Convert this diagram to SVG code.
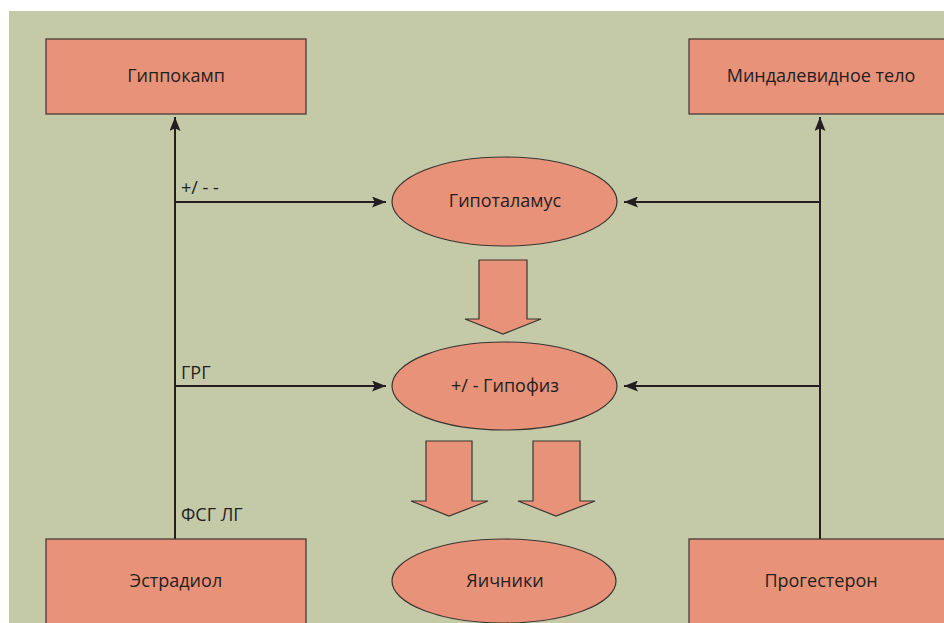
<svg xmlns="http://www.w3.org/2000/svg" width="944" height="623" viewBox="0 0 944 623">
<defs>
<marker id="ah" viewBox="0 0 10 10" refX="10" refY="5" markerWidth="14" markerHeight="11" markerUnits="userSpaceOnUse" orient="auto" preserveAspectRatio="none">
<path d="M0,0 L10,5 L0,10 L2,5 Z" fill="#231F20"/>
</marker>
<style>
.node{fill:#E8927A;stroke:#3A3530;stroke-width:1.2}
.lbl{font-family:"Open Sans","Liberation Sans",sans-serif;font-size:18px;fill:#231F20}
.c{text-anchor:middle}
.ln{stroke:#231F20;stroke-width:2;fill:none}
.ar{stroke:#231F20;stroke-width:2;fill:none;marker-end:url(#ah)}
</style>
</defs>
<rect x="0" y="0" width="944" height="623" fill="#FFFFFF"/>
<rect x="9" y="11" width="935" height="612" fill="#C4C9A8"/>
<g id="connectors">
<line class="ln" x1="175" y1="539" x2="175" y2="202"/>
<path class="ar" d="M175,202 L175,117"/>
<path class="ar" d="M175,202 L386,202"/>
<path class="ar" d="M175,386 L386,386"/>
<line class="ln" x1="820" y1="539" x2="820" y2="202"/>
<path class="ar" d="M820,202 L820,117"/>
<path class="ar" d="M820,202 L624,202"/>
<path class="ar" d="M820,386 L624,386"/>
<polygon class="node" points="479,260 527,260 527,319 541,319 503,334 465,319 479,319"/>
<polygon class="node" points="426,441 472,441 472,501 488,501 449,516 411,501 426,501"/>
<polygon class="node" points="533,441 580,441 580,501 595,501 556,516 518,501 533,501"/>
</g>
<g class="lbl">
<text x="181" y="194">+/ - -</text>
<text x="181" y="379">ГРГ</text>
<text x="181" y="521">ФСГ ЛГ</text>
</g>
<g id="hippocampus">
<rect class="node" x="46" y="39" width="260" height="75"/>
<text class="lbl c" x="176" y="82">Гиппокамп</text>
</g>
<g id="amygdala">
<rect class="node" x="689" y="39" width="270" height="75"/>
<text class="lbl c" x="821" y="82">Миндалевидное тело</text>
</g>
<g id="hypothalamus">
<ellipse class="node" cx="504.5" cy="201.5" rx="112.5" ry="44.5"/>
<text class="lbl c" x="505" y="207">Гипоталамус</text>
</g>
<g id="pituitary">
<ellipse class="node" cx="504.5" cy="386" rx="112.5" ry="44"/>
<text class="lbl c" x="505" y="392">+/ - Гипофиз</text>
</g>
<g id="estradiol">
<rect class="node" x="46" y="539" width="260" height="100"/>
<text class="lbl c" x="176" y="587">Эстрадиол</text>
</g>
<g id="ovaries">
<ellipse class="node" cx="504" cy="581" rx="112" ry="42"/>
<text class="lbl c" x="505" y="587">Яичники</text>
</g>
<g id="progesterone">
<rect class="node" x="689" y="539" width="270" height="100"/>
<text class="lbl c" x="821" y="587">Прогестерон</text>
</g>
</svg>
